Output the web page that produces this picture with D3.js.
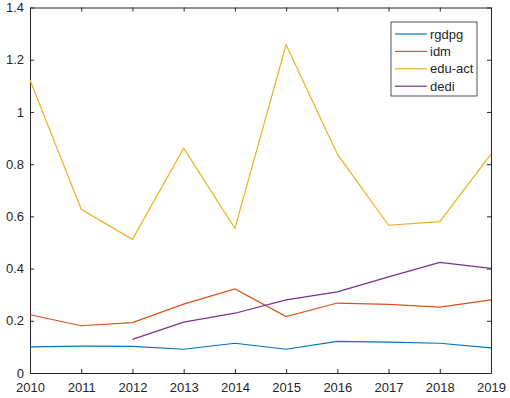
<!DOCTYPE html>
<html>
<head>
<meta charset="utf-8">
<script src="https://cdn.jsdelivr.net/npm/d3@7"></script>
<style>
  body { margin: 0; background: #fff; }
  text { font-family: "Liberation Sans", Arial, sans-serif; fill: #262626; }
</style>
</head>
<body>
<svg id="chart" width="510" height="398"></svg>
<script>
// data
const years = [2010, 2011, 2012, 2013, 2014, 2015, 2016, 2017, 2018, 2019];
const rgdpg = [0.100, 0.103, 0.102, 0.091, 0.114, 0.091, 0.121, 0.118, 0.114, 0.096];
const idm = [0.223, 0.181, 0.193, 0.264, 0.322, 0.216, 0.268, 0.263, 0.252, 0.280];
const eduAct = [1.122, 0.627, 0.512, 0.861, 0.554, 1.257, 0.838, 0.566, 0.580, 0.838];
const dedi = [null, null, 0.129, 0.195, 0.229, 0.280, 0.311, 0.368, 0.424, 0.401];
const yTicks = [0, 0.2, 0.4, 0.6, 0.8, 1, 1.2, 1.4];

const seriesNames = ['rgdpg', 'idm', 'edu-act', 'dedi'];
const seriesColors = ['#0072BD', '#D95319', '#EDB120', '#7E2F8E'];
const seriesValues = [rgdpg, idm, eduAct, dedi];

const svg = d3.select('#chart');
const plotL = 30, plotR = 491, plotT = 7.5, plotB = 373;

const x = d3.scaleLinear().domain([2010, 2019]).range([plotL, plotR]);
const y = d3.scaleLinear().domain([0, 1.4]).range([plotB, plotT]);

// axes, ticks pointing inward (box on)
const tickLen = 4;
svg.append('g').attr('transform', `translate(0,${plotB})`)
  .call(d3.axisBottom(x).tickValues(years).tickFormat(d3.format('d')).tickSizeInner(-tickLen).tickSizeOuter(0).tickPadding(10))
svg.append('g').attr('transform', `translate(0,${plotT})`)
  .call(d3.axisTop(x).tickValues(years).tickFormat('').tickSizeInner(-tickLen).tickSizeOuter(0))
svg.append('g').attr('transform', `translate(${plotL},0)`)
  .call(d3.axisLeft(y).tickValues(yTicks).tickFormat(d3.format('~g')).tickSizeInner(-tickLen).tickSizeOuter(0).tickPadding(6))
svg.append('g').attr('transform', `translate(${plotR},0)`)
  .call(d3.axisRight(y).tickValues(yTicks).tickFormat('').tickSizeInner(-tickLen).tickSizeOuter(0))

svg.selectAll('.domain').attr('stroke', '#262626')
svg.selectAll('.tick line').attr('stroke', '#262626')
svg.selectAll('.tick text').attr('font-size', 13).attr('fill', '#262626')
  .style('font-family', '"Liberation Sans", Arial, sans-serif')

// lines
const line = d3.line()
  .defined(d => d.v !== null)
  .x(d => x(d.year))
  .y(d => y(d.v));

seriesValues.forEach((vals, i) => {
  const pts = years.map((yr, j) => ({ year: yr, v: vals[j] }));
  svg.append('path')
    .datum(pts)
    .attr('d', line)
    .attr('fill', 'none')
    .attr('stroke', seriesColors[i])
    .attr('stroke-width', 1.2)
});

// legend
const lg = svg.append('g').attr('transform', 'translate(391,22)');
lg.append('rect').attr('width', 86).attr('height', 74)
  .attr('fill', '#fff').attr('stroke', '#262626').attr('stroke-width', 0.8);
seriesNames.forEach((name, i) => {
  const ry = 12 + i * 17.4;
  lg.append('line').attr('x1', 4).attr('x2', 36).attr('y1', ry).attr('y2', ry)
    .attr('stroke', seriesColors[i]).attr('stroke-width', 1.2);
  lg.append('text').attr('x', 39).attr('y', ry + 4.5).attr('font-size', 13).text(name);
});
</script>
</body>
</html>
